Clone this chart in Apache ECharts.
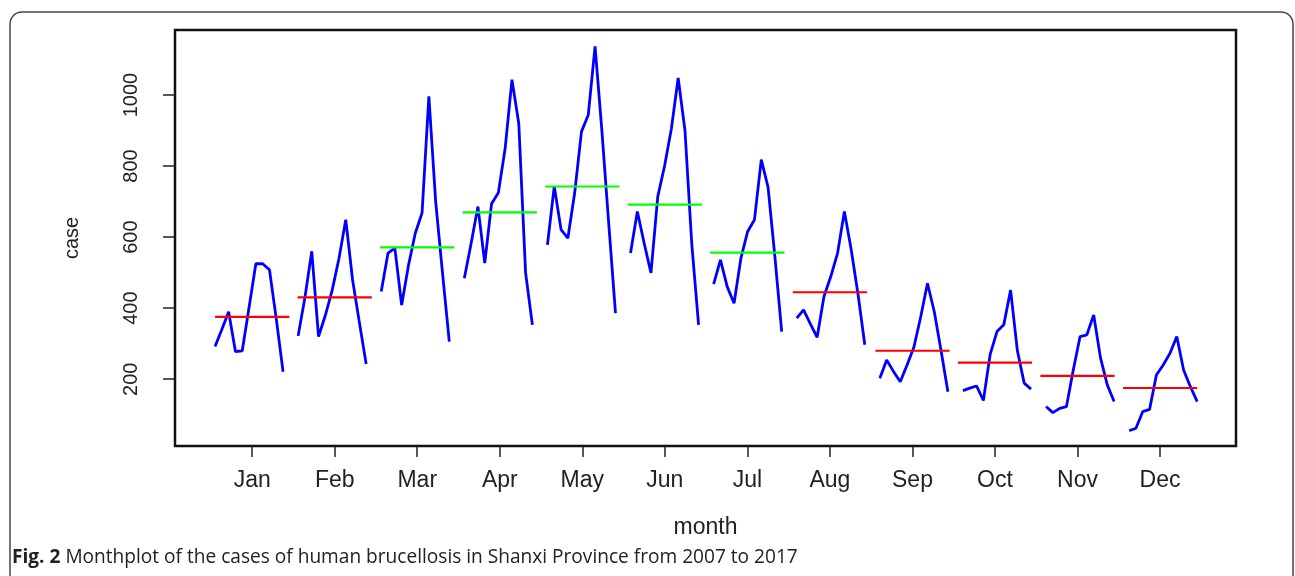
<!DOCTYPE html>
<html>
<head>
<meta charset="utf-8">
<script src="https://cdn.jsdelivr.net/npm/echarts@6/dist/echarts.min.js"></script>
<style>
  html, body { margin: 0; padding: 0; background: #fff; }
  #chart { width: 1295px; height: 576px; }
</style>
</head>
<body>
<div id="chart"></div>
<script>
// Monthly human brucellosis cases, Shanxi Province, one value per year 2007-2017
const monthLabels = ['Jan', 'Feb', 'Mar', 'Apr', 'May', 'Jun', 'Jul', 'Aug', 'Sep', 'Oct', 'Nov', 'Dec'];
const years = [2007, 2008, 2009, 2010, 2011, 2012, 2013, 2014, 2015, 2016, 2017];
const yTicks = [200, 400, 600, 800, 1000];

const jan = [292, 340, 390, 278, 280, 402, 525, 525, 508, 370, 221];
const feb = [322, 430, 560, 320, 380, 450, 540, 649, 480, 360, 243];
const mar = [447, 555, 569, 409, 520, 611, 668, 996, 700, 500, 306];
const apr = [484, 583, 686, 527, 694, 725, 850, 1043, 920, 500, 353];
const may = [578, 743, 621, 597, 724, 897, 944, 1137, 900, 640, 386];
const jun = [555, 672, 583, 499, 714, 800, 905, 1048, 900, 580, 353];
const jul = [468, 536, 460, 414, 540, 616, 649, 818, 740, 545, 334];
const aug = [372, 395, 356, 318, 433, 489, 555, 672, 565, 440, 297];
const sep = [203, 254, 222, 193, 240, 290, 375, 470, 390, 280, 165];
const oct = [168, 175, 181, 140, 270, 334, 353, 451, 280, 189, 172];
const nov = [123, 106, 118, 123, 226, 320, 325, 381, 260, 184, 137];
const dec = [55, 62, 109, 115, 212, 240, 273, 320, 226, 179, 137];

const byMonth = [jan, feb, mar, apr, may, jun, jul, aug, sep, oct, nov, dec];

// monthplot layout: each month's sub-series spreads over [m - 0.45, m + 0.45]
// according to its position in the full time series
const nTotal = monthLabels.length * years.length;
const monthMeans = byMonth.map(v => v.reduce((a, b) => a + b, 0) / v.length);
const grandMean = monthMeans.reduce((a, b) => a + b, 0) / monthMeans.length;

const series = [];
byMonth.forEach((vals, i) => {
  const m = i + 1;
  series.push({
    type: 'line',
    name: monthLabels[i],
    data: vals.map((v, k) => [m - 0.45 + ((i + 12 * k) / (nTotal - 1)) * 0.9, v]),
    symbol: 'none',
    lineStyle: { color: '#0000ff', width: 2.8 },
    silent: true,
    z: 3
  });
  series.push({
    type: 'line',
    name: monthLabels[i] + ' mean',
    data: [[m - 0.45, monthMeans[i]], [m + 0.45, monthMeans[i]]],
    symbol: 'none',
    lineStyle: { color: monthMeans[i] > grandMean ? '#00ff00' : '#ff0000', width: 2.2 },
    silent: true,
    z: 4
  });
});

const chart = echarts.init(document.getElementById('chart'), null, { renderer: 'canvas' });
const font = 'Liberation Sans, Arial, sans-serif';

chart.setOption({
  animation: false,
  backgroundColor: '#fff',
  grid: {
    left: 175, top: 30, right: 59, bottom: 130,
    show: true, borderColor: '#111', borderWidth: 2.5, backgroundColor: 'transparent'
  },
  xAxis: {
    type: 'value',
    min: 0.065, max: 12.92,
    axisLine: { show: false },
    splitLine: { show: false },
    axisTick: {
      show: true, customValues: monthLabels.map((_, i) => i + 1),
      length: 11, lineStyle: { color: '#222', width: 1.5 }
    },
    axisLabel: {
      customValues: monthLabels.map((_, i) => i + 1),
      formatter: v => monthLabels[Math.round(v) - 1],
      fontFamily: font, fontSize: 23, color: '#222', margin: 23
    },
    name: 'month', nameLocation: 'middle', nameGap: 70,
    nameTextStyle: { fontFamily: font, fontSize: 23, color: '#222' }
  },
  yAxis: {
    type: 'value',
    min: 12, max: 1183,
    axisLine: { show: false },
    splitLine: { show: false },
    axisTick: {
      show: true, customValues: yTicks,
      length: 12, lineStyle: { color: '#222', width: 1.5 }
    },
    axisLabel: {
      customValues: yTicks, rotate: 90,
      formatter: v => String(v),
      fontFamily: font, fontSize: 20, color: '#222', margin: 34
    },
    name: 'case', nameLocation: 'middle', nameGap: 93, nameRotate: 90,
    nameTextStyle: { fontFamily: font, fontSize: 20, color: '#222' }
  },
  series: series,
  graphic: [
    {
      type: 'rect', silent: true, z: 0,
      shape: { x: 10, y: 12, width: 1283, height: 620, r: 12 },
      style: { fill: 'none', stroke: '#444', lineWidth: 1.5 }
    },
    {
      type: 'text', silent: true, x: 12, y: 557, scaleX: 0.955,
      style: {
        text: '{b|Fig. 2} Monthplot of the cases of human brucellosis in Shanxi Province from 2007 to 2017',
        font: '20px "Open Sans", "Noto Sans", sans-serif',
        fill: '#222', verticalAlign: 'middle',
        rich: { b: { fontWeight: 'bold', fontSize: 20, fontFamily: 'Open Sans', fill: '#222' } }
      }
    }
  ]
});
</script>
</body>
</html>
